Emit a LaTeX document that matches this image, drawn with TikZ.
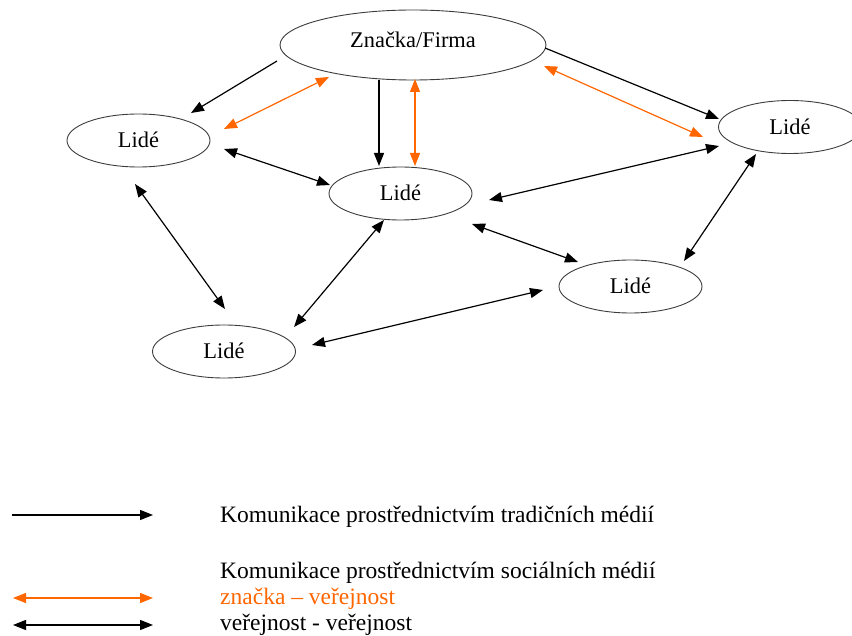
\documentclass[tikz,border=0pt]{standalone}
\usepackage{fontspec}
\setmainfont{Liberation Serif}
\usetikzlibrary{arrows.meta,shapes.geometric}
\definecolor{orng}{RGB}{255,102,0}
\definecolor{ellgray}{RGB}{60,60,60}
\begin{document}
\begin{tikzpicture}[x=1pt,y=-1pt,
  ell/.style={draw=ellgray,line width=0.9pt,ellipse,inner sep=0pt,minimum width=143pt,minimum height=53pt},
  txt/.style={inner sep=0pt,font=\fontsize{22.4}{26}\selectfont},
  tip/.style={-{Triangle[length=13pt,width=10pt]}},
  dtip/.style={{Triangle[length=13pt,width=10pt]}-{Triangle[length=13pt,width=10pt]}},
  blk/.style={black,line width=1.2pt},
  org/.style={orng,line width=1.2pt},
  lgtxt/.style={inner sep=0pt,anchor=west,font=\fontsize{23.5}{27}\selectfont}]
\useasboundingbox (0,0) rectangle (852,636);
% ellipses
\node[ell,minimum width=266pt,minimum height=70pt] (firma) at (413,45) {};
\node[txt] (firmat) at (413,40) {Značka/Firma};
\node[ell] (left) at (138.5,140.5) {};
\node[txt] (leftt) at (138.5,140) {Lidé};
\node[ell] (cent) at (400.5,193.5) {};
\node[txt] (centt) at (400.5,193) {Lidé};
\node[ell] (right) at (790,127) {};
\node[txt] (rightt) at (790,127) {Lidé};
\node[ell] (bl) at (224,351.5) {};
\node[txt] (blt) at (224,351) {Lidé};
\node[ell] (br) at (630.5,286.5) {};
\node[txt] (brt) at (630.5,286) {Lidé};
% endpoints
\coordinate (a1s) at (277,61);  \coordinate (a1e) at (191,113);
\coordinate (o1s) at (329,77);  \coordinate (o1e) at (224,129);
\coordinate (a2s) at (379,80);  \coordinate (a2e) at (379,166);
\coordinate (o2s) at (415,79);  \coordinate (o2e) at (415,166);
\coordinate (b1s) at (224,149); \coordinate (b1e) at (330,185);
\coordinate (a3s) at (545,48);  \coordinate (a3e) at (719,119);
\coordinate (o3s) at (544,66);  \coordinate (o3e) at (703,137);
\coordinate (b2s) at (489,200); \coordinate (b2e) at (719,146);
\coordinate (b3s) at (756,154); \coordinate (b3e) at (684,261);
\coordinate (b4s) at (472,224); \coordinate (b4e) at (578,262);
\coordinate (b5s) at (543,290); \coordinate (b5e) at (312,345);
\coordinate (b6s) at (384,220); \coordinate (b6e) at (294,327);
\coordinate (b7s) at (135,184); \coordinate (b7e) at (225,309);
% connectors
\draw[blk,tip] (a1s) -- (a1e);
\draw[org,dtip] (o1s) -- (o1e);
\draw[blk,tip] (a2s) -- (a2e);
\draw[org,dtip] (o2s) -- (o2e);
\draw[blk,dtip] (b1s) -- (b1e);
\draw[blk,tip] (a3s) -- (a3e);
\draw[org,dtip] (o3s) -- (o3e);
\draw[blk,dtip] (b2s) -- (b2e);
\draw[blk,dtip] (b3s) -- (b3e);
\draw[blk,dtip] (b4s) -- (b4e);
\draw[blk,dtip] (b5s) -- (b5e);
\draw[blk,dtip] (b6s) -- (b6e);
\draw[blk,dtip] (b7s) -- (b7e);
% legend
\coordinate (l1s) at (12,515);  \coordinate (l1e) at (153,515);
\coordinate (l2s) at (13,598);  \coordinate (l2e) at (153,598);
\coordinate (l3s) at (13,625);  \coordinate (l3e) at (153,625);
\draw[blk,tip] (l1s) -- (l1e);
\draw[org,dtip] (l2s) -- (l2e);
\draw[blk,dtip] (l3s) -- (l3e);
\node[lgtxt] (t1) at (220,517) {Komunikace prostřednictvím tradičních médií};
\node[lgtxt] (t2) at (220,573) {Komunikace prostřednictvím sociálních médií};
\node[lgtxt,text=orng] (t3) at (220,599) {značka – veřejnost};
\node[lgtxt] (t4) at (220,625) {veřejnost - veřejnost};
\end{tikzpicture}
\end{document}
